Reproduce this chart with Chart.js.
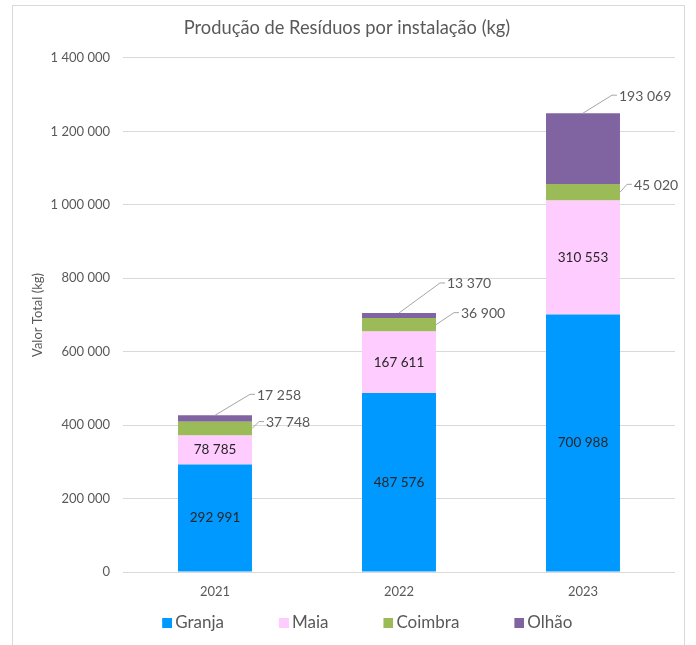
<!DOCTYPE html>
<html>
<head>
<meta charset="utf-8">
<script src="https://cdn.jsdelivr.net/npm/chart.js@4.4.1/dist/chart.umd.min.js"></script>
<style>
  html, body { margin: 0; padding: 0; background: #fff; overflow: hidden; }
</style>
</head>
<body>
<canvas id="wasteChart" width="696" height="645"></canvas>
<script>
const years = ['2021', '2022', '2023'];
const granja = [292991, 487576, 700988];
const maia = [78785, 167611, 310553];
const coimbra = [37748, 36900, 45020];
const olhao = [17258, 13370, 193069];
const yMax = 1400000;
const yStep = 200000;

const gray = '#595959';
const fmt = v => String(v).replace(/\B(?=(\d{3})+(?!\d))/g, ' ');

// leader line offsets for the labels placed outside the bars (dataset index -> per year)
const leaderOffsets = {
    2: [[7, -7], [18, -12], [7, -8]],
    3: [[35, -21], [41, -30], [29, -18]]
};

// legend swatch: square on the right of a transparent strip, so the legend items get Excel-like spacing
const SWATCH_SLOT = 45;
function legendSwatch(color) {
    const c = document.createElement('canvas');
    c.width = SWATCH_SLOT + 11;
    c.height = 10;
    const g = c.getContext('2d');
    g.fillStyle = color;
    g.fillRect(c.width - 10, 0, 10, 10);
    return c;
}

const framePlugin = {
    id: 'frame',
    beforeDraw(chart) {
        const ctx = chart.ctx;
        ctx.save();
        ctx.fillStyle = '#ffffff';
        ctx.fillRect(0, 0, chart.width, chart.height);
        ctx.strokeStyle = '#d9d9d9';
        ctx.lineWidth = 1;
        ctx.strokeRect(12.5, 5.5, 672, 680);
        ctx.restore();
    }
};

const valueLabels = {
    id: 'valueLabels',
    afterDatasetsDraw(chart) {
        const ctx = chart.ctx;
        ctx.save();
        ctx.textBaseline = 'middle';
        chart.data.datasets.forEach((ds, di) => {
            const meta = chart.getDatasetMeta(di);
            meta.data.forEach((bar, i) => {
                const p = bar.getProps(['x', 'y', 'base', 'width'], true);
                const text = fmt(ds.data[i]);
                const offs = leaderOffsets[di];
                if (!offs) {
                    ctx.font = '13.5px Lato';
                    ctx.fillStyle = '#262626';
                    ctx.textAlign = 'center';
                    ctx.fillText(text, p.x, (p.y + p.base) / 2);
                    return;
                }
                let ax, ay;
                if (di === 3) {
                    ax = p.x;
                    ay = p.y;
                } else {
                    ax = p.x + p.width / 2;
                    ay = (p.y + p.base) / 2;
                }
                const ex = ax + offs[i][0];
                const ey = ay + offs[i][1];
                ctx.strokeStyle = '#a6a6a6';
                ctx.lineWidth = 1;
                ctx.beginPath();
                ctx.moveTo(ax, ay);
                ctx.lineTo(ex, ey);
                ctx.lineTo(ex + 5, ey);
                ctx.stroke();
                ctx.font = '14px Lato';
                ctx.fillStyle = gray;
                ctx.textAlign = 'left';
                ctx.fillText(text, ex + 7, ey + 1);
            });
        });
        ctx.restore();
    }
};

const colors = ['#0099ff', '#ffccff', '#9bbb59', '#8064a2'];

new Chart(document.getElementById('wasteChart'), {
    type: 'bar',
    data: {
        labels: years,
        datasets: [
            { label: 'Granja', data: granja, backgroundColor: colors[0] },
            { label: 'Maia', data: maia, backgroundColor: colors[1] },
            { label: 'Coimbra', data: coimbra, backgroundColor: colors[2] },
            { label: 'Olhão', data: olhao, backgroundColor: colors[3] }
        ]
    },
    options: {
        responsive: false,
        animation: false,
        datasets: {
            bar: {
                borderWidth: 0,
                categoryPercentage: 1,
                barPercentage: 0.402
            }
        },
        layout: {
            padding: { left: 19, right: 21, top: 0, bottom: 3.5 }
        },
        plugins: {
            title: {
                display: true,
                text: 'Produção de Resíduos por instalação (kg)',
                color: gray,
                font: { family: 'Lato', size: 18.3, weight: 'normal' },
                padding: { top: 17, bottom: 19 }
            },
            legend: {
                position: 'bottom',
                labels: {
                    usePointStyle: true,
                    pointStyleWidth: SWATCH_SLOT,
                    boxHeight: 10,
                    padding: 14.5,
                    color: gray,
                    font: { family: 'Lato', size: 17 },
                    generateLabels: (chart) =>
                        Chart.defaults.plugins.legend.labels.generateLabels(chart)
                            .map((item, i) => ({ ...item, pointStyle: legendSwatch(colors[i]) }))
                }
            },
            tooltip: { enabled: false }
        },
        scales: {
            x: {
                stacked: true,
                grid: { display: false, drawTicks: false },
                border: { display: false },
                ticks: {
                    color: gray,
                    padding: 12,
                    font: { family: 'Lato', size: 13 }
                },
                afterFit: (scale) => { scale.height = 28; }
            },
            y: {
                stacked: true,
                min: 0,
                max: yMax,
                grid: { color: '#d9d9d9', drawTicks: false },
                border: { display: false },
                ticks: {
                    stepSize: yStep,
                    padding: 13,
                    color: gray,
                    font: { family: 'Lato', size: 13 },
                    callback: (v) => fmt(v)
                },
                title: {
                    display: true,
                    text: 'Valor Total (kg)',
                    color: gray,
                    font: { family: 'Lato', size: 13 },
                    padding: { top: 11, bottom: 0 }
                },
                afterFit: (scale) => { scale.width = 104; }
            }
        }
    },
    plugins: [framePlugin, valueLabels]
});
</script>
</body>
</html>
